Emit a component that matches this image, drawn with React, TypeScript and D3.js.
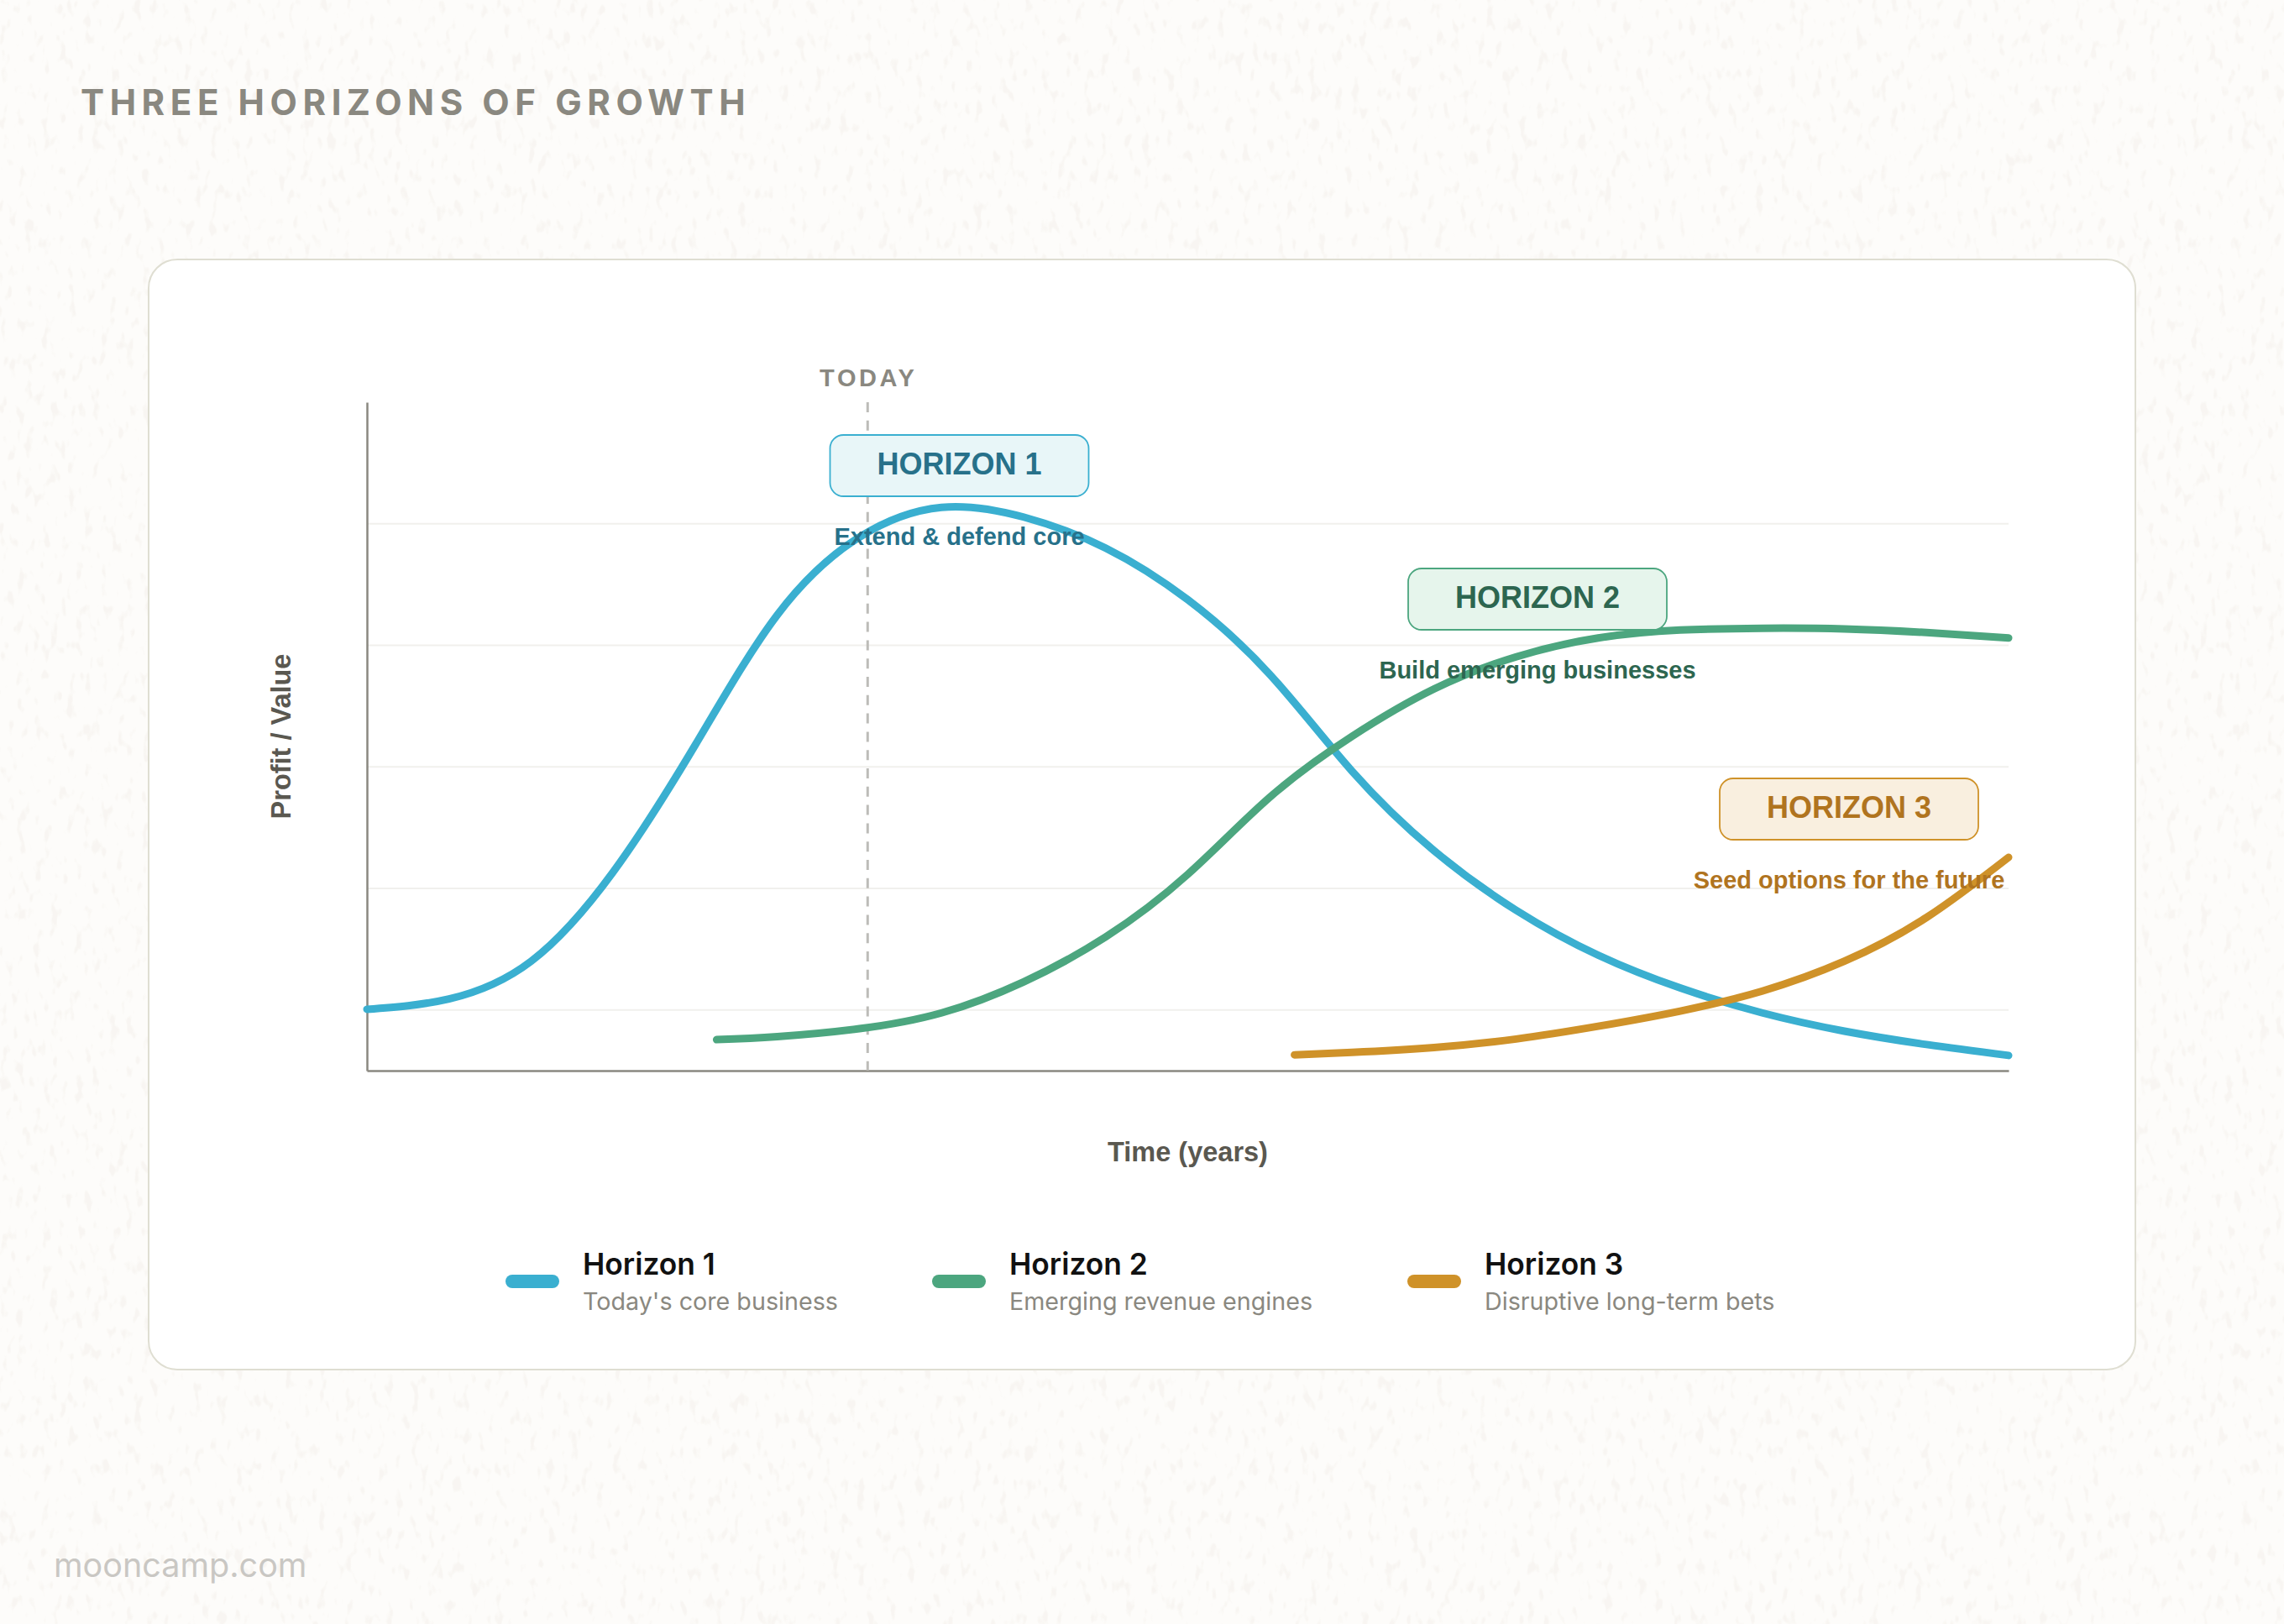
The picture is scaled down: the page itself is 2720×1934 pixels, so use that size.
import React, { useEffect, useRef } from 'react'
import * as d3 from 'd3'

// Values: x in years, y in profit units
const h1Years = [0, 0.5, 1, 1.5, 2, 2.5, 3, 3.5, 4, 4.5, 5, 5.5, 6, 6.5, 7, 7.5, 8, 8.5, 9, 9.5, 10]
const h1Values = [1.01, 1.18, 1.8, 3.27, 5.36, 7.5, 8.78, 9.27, 9.11, 8.6, 7.75, 6.52, 4.93, 3.62, 2.64, 1.9, 1.36, 0.95, 0.65, 0.43, 0.25]

const h2Years = [2.13, 2.5, 3, 3.5, 4, 4.5, 5, 5.5, 6, 6.5, 7, 7.5, 8, 8.5, 9, 9.5, 10]
const h2Values = [0.51, 0.56, 0.69, 0.95, 1.46, 2.2, 3.23, 4.5, 5.5, 6.28, 6.81, 7.12, 7.25, 7.28, 7.27, 7.21, 7.12]

const h3Years = [5.65, 6, 6.5, 7, 7.5, 8, 8.5, 9, 9.5, 10]
const h3Values = [0.26, 0.3, 0.38, 0.52, 0.73, 0.98, 1.31, 1.8, 2.52, 3.51]

const gridValues = [1, 3, 5, 7, 9]
const todayYear = 3.05

const names = ['Horizon 1', 'Horizon 2', 'Horizon 3']
const notes = ["Today's core business", 'Emerging revenue engines', 'Disruptive long-term bets']
const tags = ['HORIZON 1', 'HORIZON 2', 'HORIZON 3']
const taglines = ['Extend & defend core', 'Build emerging businesses', 'Seed options for the future']

const lineColors = ['#3aafd0', '#4ca67f', '#cf9229']
const tagFills = ['#e8f6f8', '#e6f5ec', '#f9efdf']
const tagInks = ['#27718a', '#2d6650', '#b0741f']

const WIDTH = 2720
const HEIGHT = 1934
const INTER = 'Inter, sans-serif'
const ARIAL = '"Liberation Sans", Arial, sans-serif'

const App: React.FC = () => {
  const svgRef = useRef<SVGSVGElement | null>(null)

  useEffect(() => {
    const svg = d3.select(svgRef.current)
    svg.selectAll('*').remove()

    const x = d3.scaleLinear().domain([0, 10]).range([437, 2392])
    const y = d3.scaleLinear().domain([0, 11]).range([1275, 479])

    // paper background with a faint speckle
    const filter = svg.append('defs').append('filter')
      .attr('id', 'paper')
      .attr('x', 0).attr('y', 0).attr('width', '100%').attr('height', '100%')
      .attr('color-interpolation-filters', 'sRGB')
    filter.append('feTurbulence')
      .attr('type', 'fractalNoise')
      .attr('baseFrequency', '0.1 0.05')
      .attr('numOctaves', 2)
      .attr('seed', 7)
    filter.append('feColorMatrix')
      .attr('values', '0 0 0 0 0.90  0 0 0 0 0.87  0 0 0 0 0.83  7 0 0 0 -4.1')

    svg.append('rect').attr('width', WIDTH).attr('height', HEIGHT).attr('fill', '#fdfcfa')
    svg.append('rect').attr('width', WIDTH).attr('height', HEIGHT)
      .attr('filter', 'url(#paper)').attr('opacity', 0.2)

    svg.append('text')
      .attr('x', 96).attr('y', 137)
      .attr('font-family', INTER).attr('font-size', 42).attr('font-weight', 700)
      .attr('letter-spacing', 6.6).attr('fill', '#8a8880')
      .text('THREE HORIZONS OF GROWTH')

    svg.append('rect')
      .attr('x', 177).attr('y', 309).attr('width', 2366).attr('height', 1322)
      .attr('rx', 34)
      .attr('fill', '#ffffff').attr('stroke', '#dfded2').attr('stroke-width', 2)

    // grid
    svg.append('g').selectAll('line').data(gridValues).enter().append('line')
      .attr('x1', x(0)).attr('x2', x(10))
      .attr('y1', (d) => y(d)).attr('y2', (d) => y(d))
      .attr('stroke', '#f1f0ed').attr('stroke-width', 2)

    // axes, no ticks
    const xAxis = svg.append('g').attr('transform', `translate(0,${y(0)})`)
      .call(d3.axisBottom(x).tickValues([]).tickSize(0))
    const yAxis = svg.append('g').attr('transform', `translate(${x(0)},0)`)
      .call(d3.axisLeft(y).tickValues([]).tickSize(0))
    xAxis.select('.domain').attr('stroke', '#8a8880').attr('stroke-width', 2.5)
    yAxis.select('.domain').attr('stroke', '#8a8880').attr('stroke-width', 2.5)

    // today marker
    svg.append('line')
      .attr('x1', x(todayYear)).attr('x2', x(todayYear))
      .attr('y1', y(11)).attr('y2', y(0))
      .attr('stroke', '#bdbcb8').attr('stroke-width', 3)
      .attr('stroke-dasharray', '12 9.8')
    svg.append('text')
      .attr('x', x(todayYear) + 1).attr('y', 459.5).attr('text-anchor', 'middle')
      .attr('font-family', ARIAL).attr('font-size', 29).attr('font-weight', 700)
      .attr('letter-spacing', 3.6).attr('fill', '#8a8880')
      .text('TODAY')

    // curves
    const line = d3.line<[number, number]>()
      .x((d) => x(d[0])).y((d) => y(d[1]))
      .curve(d3.curveNatural)
    const series: [number, number][][] = [
      h1Years.map((t, i) => [t, h1Values[i]]),
      h2Years.map((t, i) => [t, h2Values[i]]),
      h3Years.map((t, i) => [t, h3Values[i]]),
    ]
    svg.append('g').selectAll('path').data(series).enter().append('path')
      .attr('d', (d) => line(d))
      .attr('fill', 'none')
      .attr('stroke', (_, i) => lineColors[i])
      .attr('stroke-width', 9)
      .attr('stroke-linecap', 'round')
      .attr('stroke-linejoin', 'round')

    // horizon tags above the curves
    const tagCenters = [1142.5, 1831, 2202]
    const tagTops = [518, 677, 927]
    tags.forEach((tag, i) => {
      svg.append('rect')
        .attr('x', tagCenters[i] - 154).attr('y', tagTops[i]).attr('width', 308).attr('height', 73)
        .attr('rx', 16)
        .attr('fill', tagFills[i]).attr('stroke', lineColors[i]).attr('stroke-width', 1.8)
      svg.append('text')
        .attr('x', tagCenters[i]).attr('y', tagTops[i] + 47).attr('text-anchor', 'middle')
        .attr('font-family', ARIAL).attr('font-size', 36).attr('font-weight', 700)
        .attr('fill', tagInks[i])
        .text(tag)
      svg.append('text')
        .attr('x', tagCenters[i]).attr('y', tagTops[i] + 131).attr('text-anchor', 'middle')
        .attr('font-family', ARIAL).attr('font-size', 29).attr('font-weight', 700)
        .attr('fill', tagInks[i])
        .text(taglines[i])
    })

    // axis titles
    svg.append('text')
      .attr('x', x(5)).attr('y', 1382.5).attr('text-anchor', 'middle')
      .attr('font-family', ARIAL).attr('font-size', 32.5).attr('font-weight', 700)
      .attr('fill', '#5a5850')
      .text('Time (years)')
    svg.append('text')
      .attr('transform', `translate(346,${y(5.5)}) rotate(-90)`)
      .attr('text-anchor', 'middle')
      .attr('font-family', ARIAL).attr('font-size', 32.5).attr('font-weight', 700)
      .attr('fill', '#5a5850')
      .text('Profit / Value')

    // legend
    const swatchX = [602, 1110, 1676]
    names.forEach((name, i) => {
      svg.append('rect')
        .attr('x', swatchX[i]).attr('y', 1518).attr('width', 64).attr('height', 16)
        .attr('rx', 8).attr('fill', lineColors[i])
      svg.append('text')
        .attr('x', swatchX[i] + 92).attr('y', 1518)
        .attr('font-family', INTER).attr('font-size', 35.3).attr('font-weight', 600)
        .attr('fill', '#111111')
        .text(name)
      svg.append('text')
        .attr('x', swatchX[i] + 92).attr('y', 1559.5)
        .attr('font-family', INTER).attr('font-size', 28.7)
        .attr('fill', '#8a8880')
        .text(notes[i])
    })

    svg.append('text')
      .attr('x', 64).attr('y', 1878)
      .attr('font-family', INTER).attr('font-size', 39.5)
      .attr('fill', '#c9c7c3')
      .text('mooncamp.com')
  }, [])

  return (
    <svg
      ref={svgRef}
      width={WIDTH}
      height={HEIGHT}
      style={{ position: 'absolute', top: 0, left: 0, display: 'block' }}
    ></svg>
  )
}

export default App
